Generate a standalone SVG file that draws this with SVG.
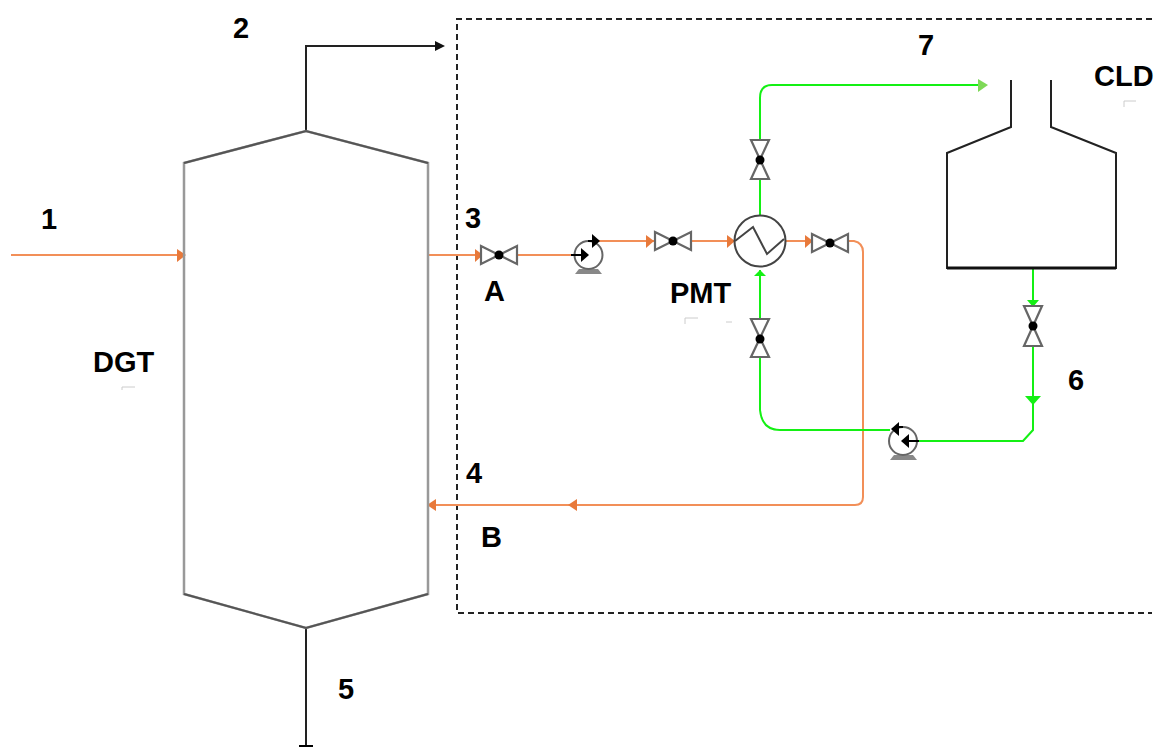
<svg xmlns="http://www.w3.org/2000/svg" width="1155" height="747" viewBox="0 0 1155 747">
<style>
text{font-family:"Liberation Sans",Arial,sans-serif;font-weight:700;font-size:29px;fill:#000}
.o{fill:none;stroke:#f28f58;stroke-width:2}
.g{fill:none;stroke:#14f014;stroke-width:2}
.k{fill:none;stroke:#222;stroke-width:2}
.v{fill:#fff;stroke:#666;stroke-width:2.2}
.d{fill:#000}
.ao{fill:#e8793a}
.ag{fill:#14f014}
.p{fill:#fff;stroke:#666;stroke-width:2}
.f{fill:#888}
.b{fill:none;stroke:#000;stroke-width:2}
.t{fill:none;stroke:#ccc;stroke-width:1}
</style>
<rect width="1155" height="747" fill="#fff"/>
<path d="M1152 19H457V613H1152" fill="none" stroke="#222" stroke-width="2" stroke-dasharray="6 4"/>
<g id="connectors">
<path class="k" d="M306 131V46H436"/>
<path d="M435 41L445 46L435 51Z" fill="#111"/>
<path d="M306 628V745" fill="none" stroke="#222" stroke-width="2"/>
<path d="M299 746H313" stroke="#000" stroke-width="2"/>
<path class="o" d="M11 255H180"/>
<path class="ao" d="M177 249L186 255L177 262Z"/>
<path class="o" d="M428 255H481M517 255H572M599 241H654M692 241H734M786 241H812M848 241H854Q863 243 863 252V497Q863 505 855 505H428"/>
<path class="ao" d="M475 249L483 255L475 262Z"/>
<path class="ao" d="M646 235L654 241L646 248Z"/>
<path class="ao" d="M727 235L735 241L727 248Z"/>
<path class="ao" d="M805 235L813 241L805 248Z"/>
<path class="ao" d="M577 499L568 505L577 511Z"/>
<path class="ao" d="M436 499L427 505L436 511Z"/>
<path class="g" d="M760 140V98Q760 85 772 85H982M760 180V215M760 270V319M760 357V410Q762 430 780 430H890M1033 269V306M1033 346V430L1023 441H918"/>
<path d="M978 79L988 85L978 92Z" fill="#7ed957"/>
<path class="ag" d="M754 276L760 270L766 276Z"/>
<path class="ag" d="M1027 300H1039L1033 307Z"/>
<path class="ag" d="M1025 396H1041L1033 405Z"/>
</g>
<g id="DGT">
<path d="M184 163L306 131L428 163V594L306 628L184 594Z" fill="none" stroke="#999" stroke-width="2.5"/>
<path d="M184 163L306 131L428 163M428 594L306 628L184 594" fill="none" stroke="#555" stroke-width="2"/>
<text x="93" y="372">DGT</text>
<path class="t" d="M122 390V387H135"/>
</g>
<g id="CLD">
<path class="k" d="M1011 80V127L947 153V268H1116V153L1051 127V80"/>
<path d="M947 268H1116" stroke="#111" stroke-width="3"/>
<text x="1094" y="86">CLD</text>
<path class="t" d="M1124 107V101H1136"/>
</g>
<g id="valve-a"><path class="v" d="M481 246L517 264V246L481 264Z"/><circle class="d" cx="499" cy="255" r="4.5"/></g>
<g id="valve-b"><path class="v" d="M655 232L691 250V232L655 250Z"/><circle class="d" cx="673" cy="241" r="4.5"/></g>
<g id="valve-c"><path class="v" d="M812 234L848 252V234L812 252Z"/><circle class="d" cx="830" cy="243" r="4.5"/></g>
<g id="valve-d"><path class="v" d="M751 140H769L751 179H769Z"/><circle class="d" cx="760" cy="160" r="4.5"/></g>
<g id="valve-e"><path class="v" d="M751 319H769L751 357H769Z"/><circle class="d" cx="760" cy="339" r="4.5"/></g>
<g id="valve-f"><path class="v" d="M1024 306H1042L1024 346H1042Z"/><circle class="d" cx="1033" cy="326" r="4.5"/></g>
<g id="pump-1">
<path class="f" d="M575 274L579 269H598L602 274Z"/>
<circle class="p" cx="588.5" cy="255" r="14"/>
<path class="b" d="M571 255H584M588 241H595"/>
<path class="d" d="M581 248L589 255L581 262Z"/>
<path class="d" d="M592 234L600 241L592 248Z"/>
</g>
<g id="pump-2">
<path class="f" d="M890 460L894 455H913L917 460Z"/>
<circle class="p" cx="903" cy="441" r="14"/>
<path class="b" d="M919 441H905M903 427H896"/>
<path class="d" d="M909 434L901 441L909 448Z"/>
<path class="d" d="M899 422L891 429L899 436Z"/>
</g>
<g id="PMT">
<circle cx="760" cy="241" r="25.5" fill="#fff" stroke="#444" stroke-width="2"/>
<path d="M735 241L753 227L767 254L784 239" fill="none" stroke="#444" stroke-width="2"/>
<text x="670" y="303">PMT</text>
<path class="t" d="M685 324V318H698M726 322H732"/>
</g>
<g id="labels">
<text x="233" y="38">2</text>
<text x="41" y="229">1</text>
<text x="465" y="228">3</text>
<text x="484" y="301">A</text>
<text x="918" y="55">7</text>
<text x="1068" y="390">6</text>
<text x="466" y="483">4</text>
<text x="481" y="547">B</text>
<text x="338" y="699">5</text>
</g>
</svg>
